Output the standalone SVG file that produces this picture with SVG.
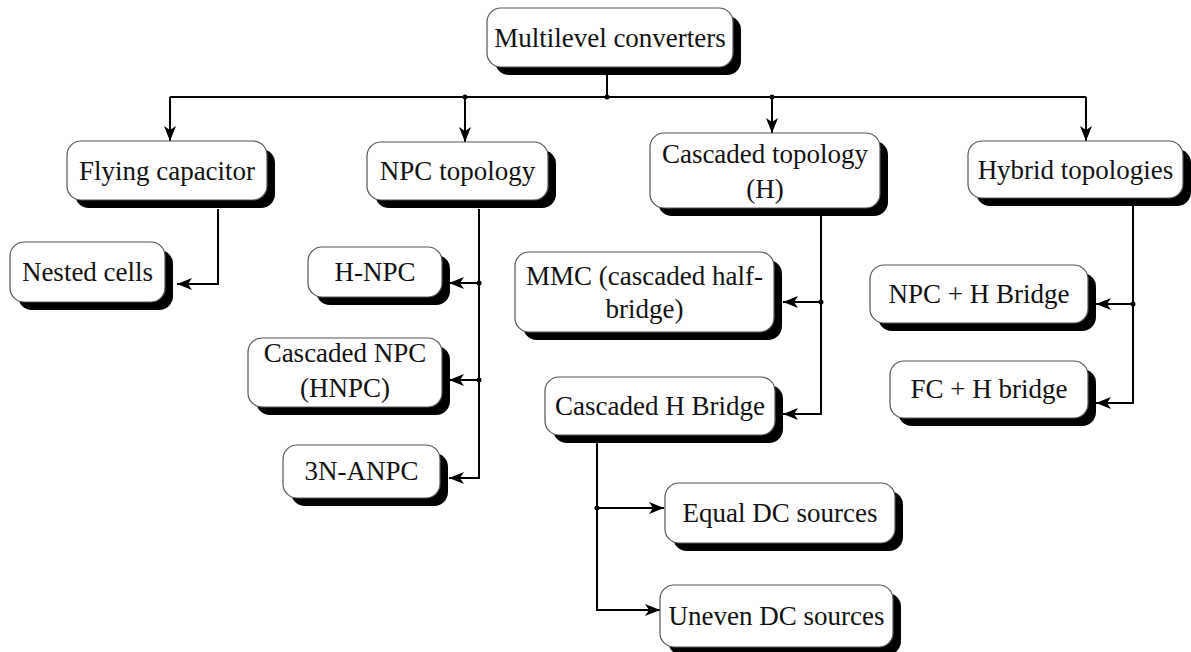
<svg xmlns="http://www.w3.org/2000/svg" width="1191" height="652" viewBox="0 0 1191 652">
<style>
.sh{fill:#000}
.bx{fill:#fff;stroke:#555;stroke-width:1.2}
text{font-family:"Liberation Serif","Times New Roman",serif;font-size:27px;fill:#111;text-anchor:middle}
.ln{fill:none;stroke:#000;stroke-width:2}
.dot{fill:#000}
</style>
<defs>
<marker id="ar" markerUnits="userSpaceOnUse" markerWidth="16" markerHeight="12" viewBox="0 0 16 12" refX="15" refY="6" orient="auto">
<path d="M0,0 L15,6 L0,12 L4,6 Z" fill="#000"/>
</marker>
</defs>
<rect width="1191" height="652" fill="#fff"/>
<g id="connectors">
<line class="ln" x1="607" y1="75" x2="607" y2="97"/>
<line class="ln" x1="170" y1="97" x2="1086" y2="97"/>
<line class="ln" x1="170" y1="97" x2="170" y2="141" marker-end="url(#ar)"/>
<line class="ln" x1="465" y1="97" x2="465" y2="142" marker-end="url(#ar)"/>
<line class="ln" x1="772" y1="97" x2="772" y2="133" marker-end="url(#ar)"/>
<line class="ln" x1="1086" y1="97" x2="1086" y2="141" marker-end="url(#ar)"/>
<circle class="dot" cx="607" cy="97" r="2.5"/>
<circle class="dot" cx="465" cy="97" r="2.5"/>
<circle class="dot" cx="772" cy="97" r="2.5"/>
<path class="ln" d="M218,209 L218,284 L177,284" marker-end="url(#ar)"/>
<path class="ln" d="M479,209 L479,478 L449,478" marker-end="url(#ar)"/>
<line class="ln" x1="479" y1="283" x2="449" y2="283" marker-end="url(#ar)"/>
<line class="ln" x1="479" y1="380" x2="449" y2="380" marker-end="url(#ar)"/>
<circle class="dot" cx="479" cy="283" r="2.5"/>
<circle class="dot" cx="479" cy="380" r="2.5"/>
<path class="ln" d="M821,216 L821,414 L783,414" marker-end="url(#ar)"/>
<line class="ln" x1="821" y1="302" x2="783" y2="302" marker-end="url(#ar)"/>
<circle class="dot" cx="821" cy="302" r="2.5"/>
<path class="ln" d="M597,443 L597,610 L660,610" marker-end="url(#ar)"/>
<line class="ln" x1="597" y1="508" x2="664" y2="508" marker-end="url(#ar)"/>
<circle class="dot" cx="597" cy="508" r="2.5"/>
<path class="ln" d="M1133,206 L1133,403 L1096,403" marker-end="url(#ar)"/>
<line class="ln" x1="1133" y1="304" x2="1096" y2="304" marker-end="url(#ar)"/>
<circle class="dot" cx="1133" cy="304" r="2.5"/>
</g>
<g id="n-top"><rect class="sh" x="495" y="16" width="246" height="59" rx="14"/><rect class="bx" x="487" y="8" width="246" height="59" rx="14"/><text x="610" y="47">Multilevel converters</text></g>
<g id="n-fc"><rect class="sh" x="75" y="149" width="200" height="59" rx="14"/><rect class="bx" x="67" y="141" width="200" height="59" rx="14"/><text x="167" y="180">Flying capacitor</text></g>
<g id="n-nested"><rect class="sh" x="18" y="250" width="155" height="60" rx="14"/><rect class="bx" x="10" y="242" width="155" height="60" rx="14"/><text x="87.5" y="281">Nested cells</text></g>
<g id="n-npc"><rect class="sh" x="375" y="150" width="181" height="58" rx="14"/><rect class="bx" x="367" y="142" width="181" height="58" rx="14"/><text x="457.5" y="180">NPC topology</text></g>
<g id="n-hnpc"><rect class="sh" x="316" y="255" width="134" height="50" rx="14"/><rect class="bx" x="308" y="247" width="134" height="50" rx="14"/><text x="375" y="281">H-NPC</text></g>
<g id="n-cnpc"><rect class="sh" x="256" y="346" width="194" height="69" rx="14"/><rect class="bx" x="248" y="338" width="194" height="69" rx="14"/><text x="345" y="362">Cascaded NPC</text><text x="345" y="397">(HNPC)</text></g>
<g id="n-anpc"><rect class="sh" x="291" y="453" width="157" height="53" rx="14"/><rect class="bx" x="283" y="445" width="157" height="53" rx="14"/><text x="361.5" y="480">3N-ANPC</text></g>
<g id="n-cas"><rect class="sh" x="658" y="141" width="230" height="75" rx="14"/><rect class="bx" x="650" y="133" width="230" height="75" rx="14"/><text x="765" y="163">Cascaded topology</text><text x="765" y="198">(H)</text></g>
<g id="n-mmc"><rect class="sh" x="523" y="260" width="259" height="80" rx="14"/><rect class="bx" x="515" y="252" width="259" height="80" rx="14"/><text x="644.5" y="285">MMC (cascaded half-</text><text x="644.5" y="318">bridge)</text></g>
<g id="n-chb"><rect class="sh" x="553" y="385" width="230" height="58" rx="14"/><rect class="bx" x="545" y="377" width="230" height="58" rx="14"/><text x="660" y="415">Cascaded H Bridge</text></g>
<g id="n-equal"><rect class="sh" x="673" y="491" width="230" height="60" rx="14"/><rect class="bx" x="665" y="483" width="230" height="60" rx="14"/><text x="780" y="522">Equal DC sources</text></g>
<g id="n-uneven"><rect class="sh" x="668" y="593" width="233" height="62" rx="14"/><rect class="bx" x="660" y="585" width="233" height="62" rx="14"/><text x="776.5" y="625">Uneven DC sources</text></g>
<g id="n-hybrid"><rect class="sh" x="976" y="149" width="215" height="57" rx="14"/><rect class="bx" x="968" y="141" width="215" height="57" rx="14"/><text x="1075.5" y="179">Hybrid topologies</text></g>
<g id="n-npch"><rect class="sh" x="878" y="273" width="218" height="58" rx="14"/><rect class="bx" x="870" y="265" width="218" height="58" rx="14"/><text x="979" y="303">NPC + H Bridge</text></g>
<g id="n-fch"><rect class="sh" x="898" y="369" width="198" height="57" rx="14"/><rect class="bx" x="890" y="361" width="198" height="57" rx="14"/><text x="989" y="398">FC + H bridge</text></g>
</svg>
